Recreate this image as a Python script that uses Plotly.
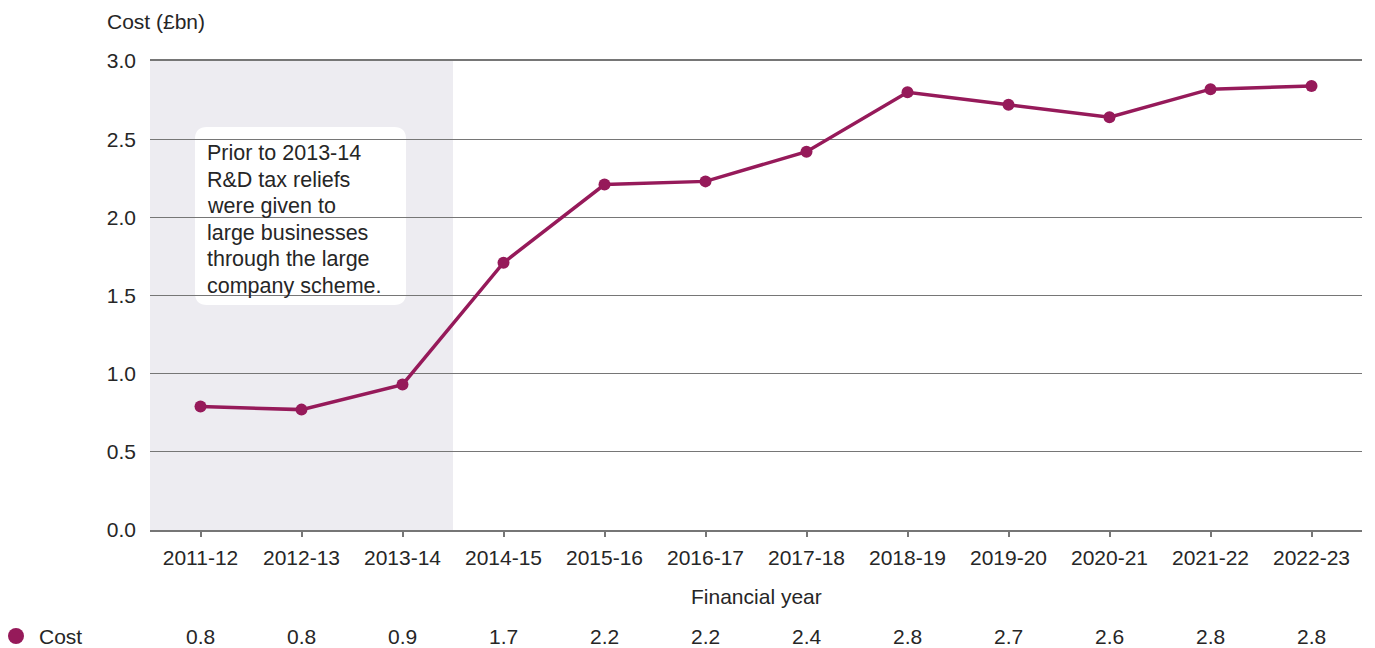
import plotly.graph_objects as go

# Financial years and R&D tax relief cost (£bn)
years = ["2011-12", "2012-13", "2013-14", "2014-15", "2015-16", "2016-17",
         "2017-18", "2018-19", "2019-20", "2020-21", "2021-22", "2022-23"]
cost = [0.79, 0.77, 0.93, 1.71, 2.21, 2.23, 2.42, 2.80, 2.72, 2.64, 2.82, 2.84]
y_ticks = [0.0, 0.5, 1.0, 1.5, 2.0, 2.5, 3.0]
note_lines = ["Prior to 2013-14", "R&D tax reliefs", "were given to",
              "large businesses", "through the large", "company scheme."]
shaded_until = "2013-14"

LINE = "#961A5A"
TEXT = "#262626"
GRID = "#767676"
FONT = "Liberation Sans, Arial, sans-serif"

W, H = 1375, 648
ML, MR, MT, MB = 150, 13, 61, 118
pw, ph = W - ML - MR, H - MT - MB


def px(xp):
    """Horizontal pixel position -> paper coordinate."""
    return (xp - ML) / pw


def py(yp):
    """Vertical pixel position -> paper coordinate."""
    return (H - MB - yp) / ph


fig = go.Figure()
fig.add_trace(go.Scatter(
    x=list(range(len(years))), y=cost, mode="lines+markers",
    line=dict(color=LINE, width=3.5),
    marker=dict(color=LINE, size=12),
    name="Cost", showlegend=False, hoverinfo="skip",
))

# Shaded band for the years under the large company scheme
fig.add_shape(type="rect", xref="x", yref="paper",
              x0=-0.5, x1=years.index(shaded_until) + 0.5, y0=0, y1=1,
              fillcolor="#EDECF1", line_width=0, layer="below")

# Rounded white note box
bx0, bx1, by0, by1 = px(195), px(406), py(305), py(127)
rx, ry = 12 / pw, 12 / ph
path = (f"M {bx0+rx},{by1} L {bx1-rx},{by1} Q {bx1},{by1} {bx1},{by1-ry} "
        f"L {bx1},{by0+ry} Q {bx1},{by0} {bx1-rx},{by0} "
        f"L {bx0+rx},{by0} Q {bx0},{by0} {bx0},{by0+ry} "
        f"L {bx0},{by1-ry} Q {bx0},{by1} {bx0+rx},{by1} Z")
fig.add_shape(type="path", path=path, xref="paper", yref="paper",
              fillcolor="white", line_width=0, layer="between")

for k, line in enumerate(note_lines):
    fig.add_annotation(
        text=line, xref="paper", yref="paper",
        x=px(205), y=py(153 + 26.6 * k), xanchor="left", yanchor="middle",
        align="left", showarrow=False,
        font=dict(size=21.5, color=TEXT, family=FONT),
    )

# Axis titles
fig.add_annotation(text="Cost (£bn)", xref="paper", yref="paper",
                   x=px(105), y=py(21), xanchor="left", yanchor="middle",
                   showarrow=False, font=dict(size=21, color=TEXT, family=FONT))
fig.add_annotation(text="Financial year", xref="paper", yref="paper",
                   x=0.5, y=py(596), xanchor="center", yanchor="middle",
                   showarrow=False, font=dict(size=21, color=TEXT, family=FONT))

# Data table row beneath the chart
r = 8
fig.add_shape(type="circle", xref="paper", yref="paper",
              x0=px(16 - r), x1=px(16 + r), y0=py(636 + r), y1=py(636 - r),
              fillcolor=LINE, line_width=0)
fig.add_annotation(text="Cost", xref="paper", yref="paper",
                   x=px(37), y=py(636), xanchor="left", yanchor="middle",
                   showarrow=False, font=dict(size=21, color=TEXT, family=FONT))
for i, v in enumerate(cost):
    fig.add_annotation(text=f"{v:.1f}", xref="x", yref="paper",
                       x=i, y=py(636), xanchor="center", yanchor="middle",
                       showarrow=False,
                       font=dict(size=21, color=TEXT, family=FONT))

fig.update_xaxes(
    range=[-0.5, len(years) - 0.5],
    tickmode="array", tickvals=list(range(len(years))), ticktext=years,
    ticks="outside", ticklen=5, tickwidth=1.5, tickcolor=GRID,
    showgrid=False, zeroline=False,
    showline=True, linecolor=GRID, linewidth=2, mirror=True,
    tickfont=dict(size=21, color=TEXT, family=FONT),
    ticklabelstandoff=3,
)
fig.update_yaxes(
    range=[0, 3.0], tickmode="array", tickvals=y_ticks,
    ticktext=[f"{t:.1f}" for t in y_ticks],
    showgrid=True, gridcolor=GRID, gridwidth=1.3,
    zeroline=False, showline=False, ticks="",
    tickfont=dict(size=21, color=TEXT, family=FONT),
    ticklabelstandoff=13,
)

fig.update_layout(
    width=W, height=H,
    margin=dict(l=ML, r=MR, t=MT, b=MB),
    plot_bgcolor="white", paper_bgcolor="white",
    font=dict(family=FONT, color=TEXT),
)

fig.write_html("out.html")
